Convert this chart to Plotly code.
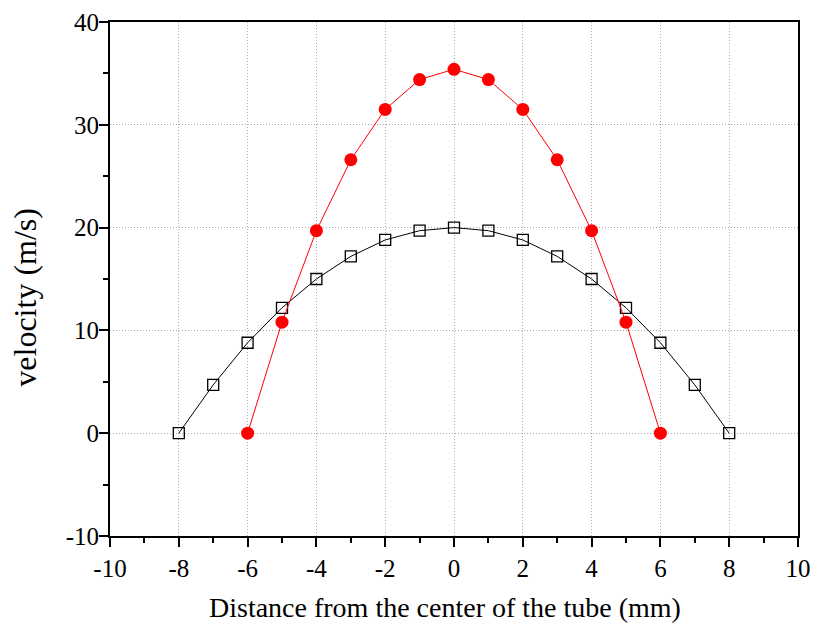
import plotly.graph_objects as go

x_black = [-8, -7, -6, -5, -4, -3, -2, -1, 0, 1, 2, 3, 4, 5, 6, 7, 8]
v_black = [0, 4.7, 8.8, 12.2, 15.0, 17.2, 18.8, 19.7, 20.0, 19.7, 18.8, 17.2, 15.0, 12.2, 8.8, 4.7, 0]
x_red = [-6, -5, -4, -3, -2, -1, 0, 1, 2, 3, 4, 5, 6]
v_red = [0, 10.8, 19.7, 26.6, 31.5, 34.4, 35.4, 34.4, 31.5, 26.6, 19.7, 10.8, 0]

x_ticks = [-10, -8, -6, -4, -2, 0, 2, 4, 6, 8, 10]
x_ticklabels = ["-10", "-8", "-6", "-4", "-2", "0", "2", "4", "6", "8", "10"]
y_ticks = [-10, 0, 10, 20, 30, 40]
y_ticklabels = ["-10", "0", "10", "20", "30", "40"]

x_title = "Distance from the center of the tube (mm)"
y_title = "velocity (m/s)"

fig = go.Figure()
fig.add_trace(go.Scatter(x=x_black, y=v_black, mode="lines+markers",
                         line=dict(color="black", width=1),
                         marker=dict(symbol="square-open", size=11, color="black", line=dict(width=1.3))))
fig.add_trace(go.Scatter(x=x_red, y=v_red, mode="lines+markers",
                         line=dict(color="red", width=1),
                         marker=dict(symbol="circle", size=13, color="red")))

font = "Liberation Serif, Times New Roman, serif"
fig.update_layout(
    width=815, height=626,
    margin=dict(l=110, r=17, t=22, b=90),
    plot_bgcolor="white", paper_bgcolor="white",
    showlegend=False,
    font=dict(family=font, color="black", size=25),
    annotations=[
        dict(text=x_title, xref="paper", yref="paper", x=0.487, y=-0.140,
             xanchor="center", yanchor="middle", showarrow=False,
             font=dict(size=28, family=font, color="black")),
        dict(text=y_title, xref="paper", yref="paper", x=-0.124, y=0.465,
             xanchor="center", yanchor="middle", showarrow=False, textangle=-90,
             font=dict(size=32, family=font, color="black")),
    ],
)
common = dict(showline=True, linecolor="black", linewidth=2, mirror=True,
              ticks="outside", ticklen=9, tickwidth=2, tickcolor="black",
              showgrid=True, gridcolor="#aaaaaa", griddash="1px,2px", gridwidth=1,
              zeroline=False, automargin=False,
              tickfont=dict(size=25, family=font, color="black"))
fig.update_xaxes(range=[-10, 10], tickmode="array", tickvals=x_ticks, ticktext=x_ticklabels,
                 minor=dict(dtick=1, tick0=-10, ticks="outside", ticklen=5, tickwidth=2,
                            tickcolor="black", showgrid=False), **common)
fig.update_yaxes(range=[-10, 40], tickmode="array", tickvals=y_ticks, ticktext=y_ticklabels,
                 ticklabelstandoff=-5,
                 minor=dict(dtick=5, tick0=-10, ticks="outside", ticklen=5, tickwidth=2,
                            tickcolor="black", showgrid=False), **common)
fig.write_html("out.html", config={"displayModeBar": False},
               post_script="document.body.style.margin='0';document.body.style.overflow='hidden';window.scrollTo(0,0);")
